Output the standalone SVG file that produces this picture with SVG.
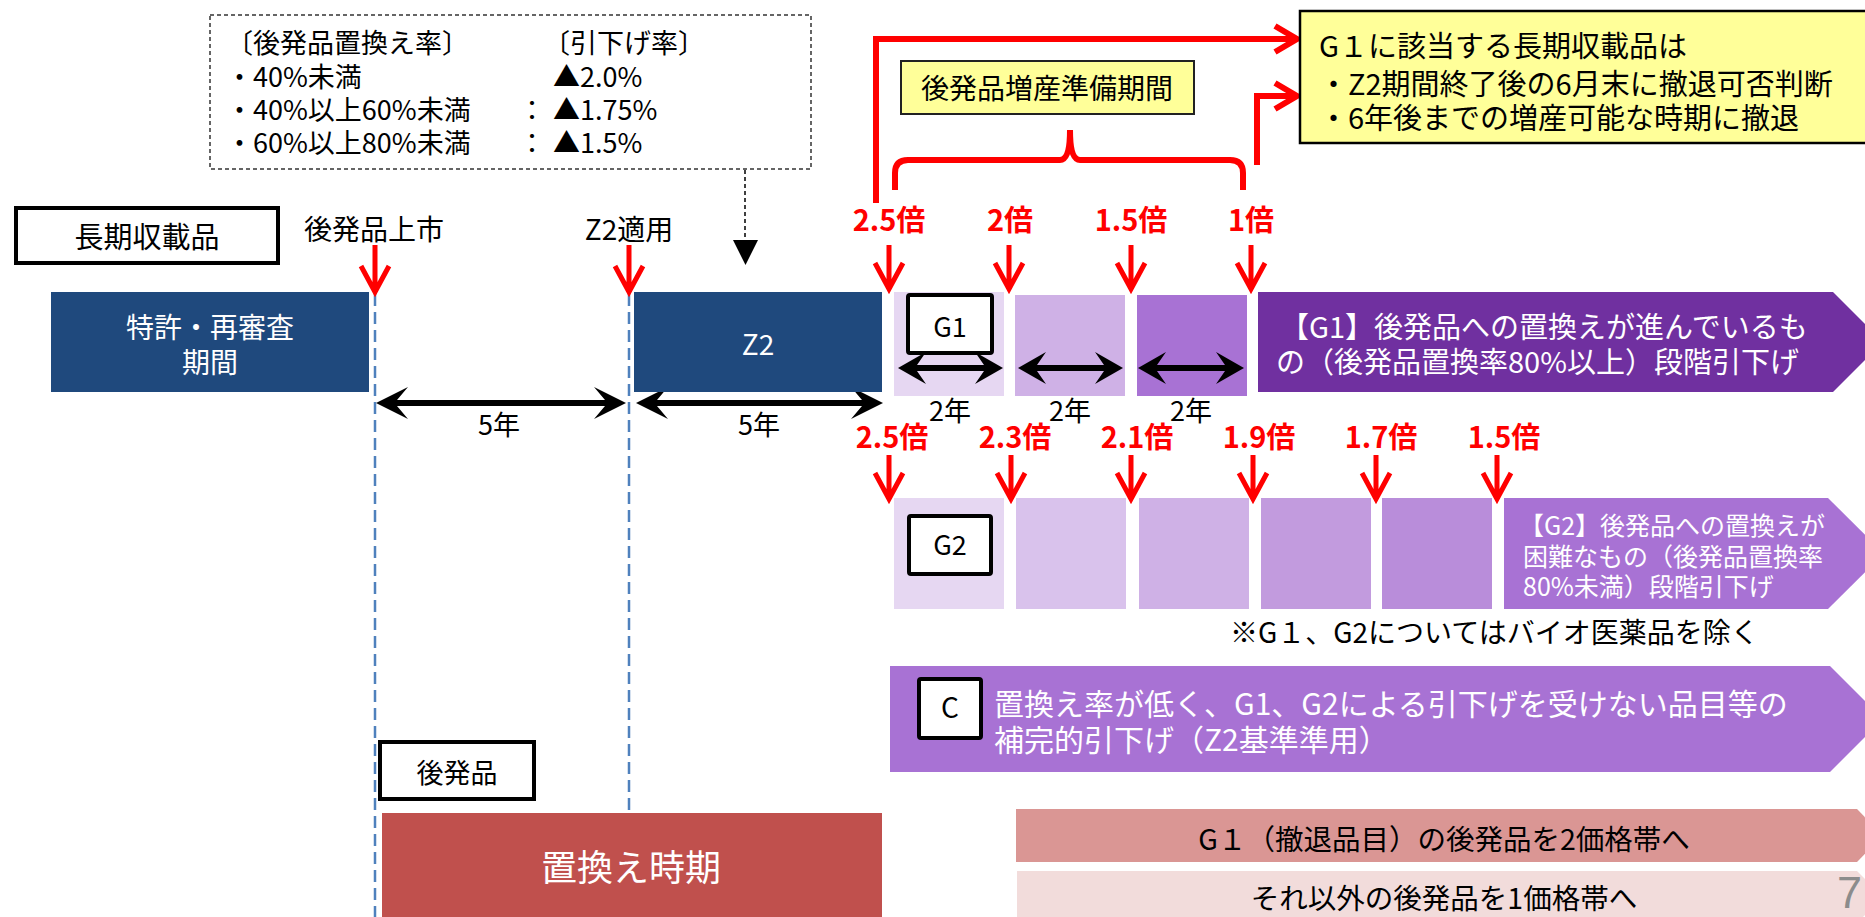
<svg xmlns="http://www.w3.org/2000/svg" width="1865" height="917" viewBox="0 0 1865 917">
<style>
text{font-family:'Noto Sans CJK JP','Noto Sans',sans-serif;fill:#000;}
.t26{font-size:26px;}
.t27{font-size:27px;}
.t28{font-size:28px;}
.t29{font-size:29px;}
.t30{font-size:30px;}
.w{fill:#fff;}
.mid{text-anchor:middle;}
.mul{font-size:29px;font-weight:bold;fill:#FF0000;text-anchor:middle;}
.lbl{fill:#fff;stroke:#000;stroke-width:4;}
.ra{fill:none;stroke:#FF0000;stroke-width:5;}
.rl{fill:none;stroke:#FF0000;stroke-width:6;}
.da{fill:#000;}
.bl{stroke:#4F81BD;stroke-width:2.5;stroke-dasharray:12 6;}
</style>

<g id="connectors">
  <line class="bl" x1="375" y1="294" x2="375" y2="917"/>
  <line class="bl" x1="629" y1="294" x2="629" y2="917"/>
  <path d="M745,170 V242" stroke="#000" stroke-width="1.5" stroke-dasharray="4 3" fill="none"/>
  <polygon points="733,240 758,240 745.5,265" fill="#000"/>
  <path class="ra" d="M375,245 V291 M361,266 L375,292 L389,266"/>
  <path class="ra" d="M629,245 V291 M615,266 L629,292 L643,266"/>
  <path class="ra" d="M889,245 V288 M875,263 L889,289 L903,263"/>
  <path class="ra" d="M1009,245 V288 M995,263 L1009,289 L1023,263"/>
  <path class="ra" d="M1131,245 V288 M1117,263 L1131,289 L1145,263"/>
  <path class="ra" d="M1251,245 V288 M1237,263 L1251,289 L1265,263"/>
  <path class="ra" d="M889,455 V498 M875,473 L889,499 L903,473"/>
  <path class="ra" d="M1011,455 V498 M997,473 L1011,499 L1025,473"/>
  <path class="ra" d="M1131,455 V498 M1117,473 L1131,499 L1145,473"/>
  <path class="ra" d="M1253,455 V498 M1239,473 L1253,499 L1267,473"/>
  <path class="ra" d="M1376,455 V498 M1362,473 L1376,499 L1390,473"/>
  <path class="ra" d="M1497,455 V498 M1483,473 L1497,499 L1511,473"/>
  <path class="rl" d="M876,203 V39 H1294"/>
  <path class="rl" d="M1275,26 L1297,39 L1275,52"/>
  <path class="rl" d="M1257,165 V96 H1294"/>
  <path class="rl" d="M1275,83 L1297,96 L1275,109"/>
  <path class="rl" d="M895,190 V173 Q895,160 908,160 H1060 Q1070,160 1070,130 Q1070,160 1080,160 H1230 Q1243,160 1243,173 V190"/>
  <polygon class="da" points="376,403 408,387 397,400 605,400 594,387 626,403 594,419 605,406 397,406 408,419"/>
  <polygon class="da" points="636,403 668,387 657,400 862,400 851,387 883,403 851,419 862,406 657,406 668,419"/>
</g>

<g id="note-rates">
  <rect x="210" y="15" width="601" height="154" fill="#fff" stroke="#333" stroke-width="1.5" stroke-dasharray="4 3"/>
  <text class="t27" x="226" y="53">〔後発品置換え率〕</text>
  <text class="t27" x="543" y="53">〔引下げ率〕</text>
  <text class="t27" x="226" y="87">・40%未満</text>
  <text class="t27" x="553" y="87">▲2.0%</text>
  <text class="t27" x="226" y="120">・40%以上60%未満</text>
  <text class="t27" x="532" y="120" text-anchor="middle">：</text>
  <text class="t27" x="553" y="120">▲1.75%</text>
  <text class="t27" x="226" y="153">・60%以上80%未満</text>
  <text class="t27" x="532" y="153" text-anchor="middle">：</text>
  <text class="t27" x="553" y="153">▲1.5%</text>
</g>

<g id="long-listed">
  <rect x="16" y="208" width="262" height="55" fill="#fff" stroke="#000" stroke-width="4"/>
  <text class="t29 mid" x="147" y="248">長期収載品</text>
</g>
<g id="label-launch"><text class="t28 mid" x="374" y="240">後発品上市</text></g>
<g id="label-z2"><text class="t28 mid" x="629" y="240">Z2適用</text></g>

<g id="patent">
  <rect x="51" y="292" width="318" height="100" fill="#1F497D"/>
  <text class="t28 mid w" x="210" y="338">特許・再審査</text>
  <text class="t28 mid w" x="210" y="373">期間</text>
</g>
<g id="z2">
  <rect x="634" y="292" width="248" height="100" fill="#1F497D"/>
  <text class="t28 mid w" x="758" y="355">Z2</text>
</g>
<g id="label-5y-1"><text class="t27 mid" x="499" y="435">5年</text></g>
<g id="label-5y-2"><text class="t27 mid" x="759" y="435">5年</text></g>

<g id="prep-period">
  <rect x="901" y="61" width="293" height="53" fill="#FFFF99" stroke="#222" stroke-width="2"/>
  <text class="t28 mid" x="1047" y="99">後発品増産準備期間</text>
</g>
<g id="g1-note">
  <rect x="1300" y="11" width="590" height="132" fill="#FFFF99" stroke="#000" stroke-width="2.5"/>
  <text class="t29" x="1319" y="57">G１に該当する長期収載品は</text>
  <text class="t29" x="1319" y="95">・Z2期間終了後の6月末に撤退可否判断</text>
  <text class="t29" x="1319" y="129">・6年後までの増産可能な時期に撤退</text>
</g>

<g id="mult-row1">
  <text class="mul" x="889" y="231">2.5倍</text>
  <text class="mul" x="1010" y="231">2倍</text>
  <text class="mul" x="1131" y="231">1.5倍</text>
  <text class="mul" x="1251" y="231">1倍</text>
</g>

<g id="g1-row">
  <rect x="894" y="292" width="110" height="104" fill="#E6D7F2"/>
  <rect x="1015" y="295" width="110" height="101" fill="#CFB1E6"/>
  <rect x="1137" y="295" width="110" height="101" fill="#A872D4"/>
  <rect class="lbl" x="908" y="295" width="84" height="58" rx="2"/>
  <text class="t27 mid" x="950" y="337">G1</text>
  <polygon class="da" points="898,368 926,352 917,365 984,365 975,352 1003,368 975,384 984,371 917,371 926,384"/>
  <polygon class="da" points="1018,368 1046,352 1037,365 1104,365 1095,352 1123,368 1095,384 1104,371 1037,371 1046,384"/>
  <polygon class="da" points="1138,368 1166,352 1157,365 1225,365 1216,352 1244,368 1216,384 1225,371 1157,371 1166,384"/>
  <text class="t27 mid" x="950" y="421">2年</text>
  <text class="t27 mid" x="1070" y="421">2年</text>
  <text class="t27 mid" x="1191" y="421">2年</text>
</g>
<g id="g1-arrow">
  <polygon points="1258,292 1833,292 1883,342 1833,392 1258,392" fill="#7030A0"/>
  <text class="t29 w" x="1280" y="338">【G1】後発品への置換えが進んでいるも</text>
  <text class="t29 w" x="1276" y="373">の（後発品置換率80%以上）段階引下げ</text>
</g>

<g id="mult-row2">
  <text class="mul" x="892" y="448">2.5倍</text>
  <text class="mul" x="1015" y="448">2.3倍</text>
  <text class="mul" x="1137" y="448">2.1倍</text>
  <text class="mul" x="1259" y="448">1.9倍</text>
  <text class="mul" x="1381" y="448">1.7倍</text>
  <text class="mul" x="1504" y="448">1.5倍</text>
</g>

<g id="g2-row">
  <rect x="894" y="498" width="110" height="111" fill="#E6D7F2"/>
  <rect x="1016" y="498" width="110" height="111" fill="#D9C2EC"/>
  <rect x="1139" y="498" width="110" height="111" fill="#CFB1E6"/>
  <rect x="1261" y="498" width="110" height="111" fill="#C29BDE"/>
  <rect x="1382" y="498" width="110" height="111" fill="#B98DDA"/>
  <rect class="lbl" x="909" y="516" width="82" height="58" rx="2"/>
  <text class="t27 mid" x="950" y="555">G2</text>
</g>
<g id="g2-arrow">
  <polygon points="1504,498 1828,498 1884,553.5 1828,609 1504,609" fill="#A872D4"/>
  <text class="w" font-size="25" x="1519" y="535">【G2】後発品への置換えが</text>
  <text class="w" font-size="25" x="1523" y="566">困難なもの（後発品置換率</text>
  <text class="w" font-size="25" x="1523" y="596">80%未満）段階引下げ</text>
</g>
<g id="note-bio"><text class="t28" x="1230" y="643">※G１、G2についてはバイオ医薬品を除く</text></g>

<g id="c-arrow">
  <polygon points="890,666 1830,666 1883,719 1830,772 890,772" fill="#A872D4"/>
  <rect class="lbl" x="919" y="679" width="62" height="59" rx="2"/>
  <text class="t28 mid" x="950" y="718">C</text>
  <text class="t30 w" x="994" y="715">置換え率が低く、G1、G2による引下げを受けない品目等の</text>
  <text class="t30 w" x="994" y="751">補完的引下げ（Z2基準準用）</text>
</g>

<g id="generic">
  <rect x="380" y="742" width="154" height="57" fill="#fff" stroke="#000" stroke-width="4"/>
  <text class="t27 mid" x="457" y="783">後発品</text>
</g>
<g id="replace-period">
  <rect x="382" y="813" width="500" height="110" fill="#C0504D"/>
  <text class="w mid" font-size="36" x="631" y="881">置換え時期</text>
</g>

<g id="price-band-2">
  <polygon points="1016,809 1857,809 1883,835.5 1857,862 1016,862" fill="#DA9694"/>
  <text class="mid" font-size="28.5" x="1444" y="850">G１（撤退品目）の後発品を2価格帯へ</text>
</g>
<g id="price-band-1">
  <polygon points="1017,871 1857,871 1883,897 1857,923 1017,923" fill="#F2DCDB"/>
  <text class="mid" font-size="28.5" x="1444" y="909">それ以外の後発品を1価格帯へ</text>
</g>
<g id="page-no">
  <text x="1862" y="908" font-size="45" style="font-family:'Liberation Sans',sans-serif;fill:#8C8C8C" text-anchor="end">7</text>
</g>
</svg>
